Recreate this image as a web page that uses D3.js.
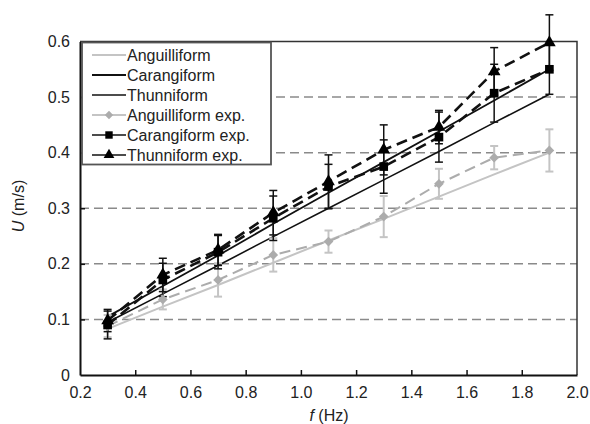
<!DOCTYPE html>
<html><head><meta charset="utf-8">
<script src="https://cdn.jsdelivr.net/npm/d3@7/dist/d3.min.js"></script>
<style>body{margin:0;background:#fff;}svg{display:block;font-family:"Liberation Sans",Arial,sans-serif;}</style>
</head><body>
<svg id="c" width="590" height="424"></svg>
<script>
const freq = [0.3,0.5,0.7,0.9,1.1,1.3,1.5,1.7,1.9];
const angTheory = [0.083,0.123,0.162,0.202,0.242,0.281,0.321,0.361,0.400];
const carTheory = [0.105,0.160,0.215,0.272,0.328,0.383,0.438,0.494,0.550];
const thuTheory = [0.095,0.146,0.197,0.249,0.300,0.351,0.402,0.454,0.505];
const angExp = [0.088,0.136,0.171,0.216,0.240,0.285,0.344,0.391,0.404];
const angErr = [0.020,0.018,0.030,0.030,0.020,0.037,0.027,0.021,0.038];
const carExp = [0.090,0.171,0.221,0.282,0.339,0.375,0.428,0.507,0.550];
const carErr = [0.025,0.030,0.030,0.040,0.040,0.048,0.045,0.052,0.045];
const thuExp = [0.098,0.180,0.225,0.292,0.348,0.405,0.446,0.546,0.598];
const thuErr = [0.020,0.030,0.028,0.040,0.048,0.045,0.030,0.043,0.050];
const xTicks = [0.2,0.4,0.6,0.8,1.0,1.2,1.4,1.6,1.8,2.0];
const yTicks = [0,0.1,0.2,0.3,0.4,0.5,0.6];
const gridVals = [0.1,0.2,0.3,0.4,0.5];
const legendLabels = ["Anguilliform","Carangiform","Thunniform","Anguilliform exp.","Carangiform exp.","Thunniform exp."];

const svg = d3.select("#c");
const x = d3.scaleLinear().domain([0.2,2.0]).range([80,577]);
const y = d3.scaleLinear().domain([0,0.6]).range([375,41.5]);
const LG = "#c4c4c4", MG = "#acacac";

// grid
svg.append("g").selectAll("line").data(gridVals).join("line")
  .attr("x1",x(0.2)).attr("x2",x(2.0)).attr("y1",d=>y(d)).attr("y2",d=>y(d))
  .attr("stroke","#8a8a8a").attr("stroke-width",1.5).attr("stroke-dasharray","9,5");

// frame top/right
svg.append("path").attr("d",`M${x(0.2)},${y(0.6)}H${x(2.0)}V${y(0)}`)
  .attr("fill","none").attr("stroke","#333").attr("stroke-width",1.5);

// axes
const xAxis = d3.axisBottom(x).tickValues(xTicks).tickFormat(d3.format(".1f")).tickSizeInner(-5).tickSizeOuter(0).tickPadding(12);
const gx = svg.append("g").attr("transform",`translate(0,${y(0)})`).call(xAxis);
const yAxis = d3.axisLeft(y).tickValues(yTicks).tickFormat(d=>d===0?"0":d3.format(".1f")(d)).tickSizeInner(-5).tickSizeOuter(0).tickPadding(10);
const gy = svg.append("g").attr("transform",`translate(${x(0.2)},0)`).call(yAxis);
[gx,gy].forEach(g=>{
  g.select(".domain").attr("stroke","#111").attr("stroke-width",2);
  g.selectAll(".tick line").attr("stroke","#111").attr("stroke-width",1.5);
  g.selectAll(".tick text").attr("fill","#222").attr("font-size",16).attr("font-family","Liberation Sans, Arial, sans-serif");
});
gx.selectAll(".tick").filter(d=>d===0.2||d===2.0).select("line").remove();
gy.selectAll(".tick").filter(d=>d===0||d===0.6).select("line").remove();

// axis labels
const xl = svg.append("text").attr("x",329).attr("y",421).attr("text-anchor","middle").attr("font-size",16).attr("fill","#222");
xl.append("tspan").attr("font-style","italic").text("f");
xl.append("tspan").text(" (Hz)");
const yl = svg.append("text").attr("transform","translate(24,206) rotate(-90)").attr("text-anchor","middle").attr("font-size",16).attr("fill","#222");
yl.append("tspan").attr("font-style","italic").text("U");
yl.append("tspan").text(" (m/s)");

const line = d3.line().x(d=>x(d[0])).y(d=>y(d[1]));
const pairs = arr => freq.map((f,i)=>[f,arr[i]]);

// theory lines
svg.append("path").attr("d",line(pairs(angTheory))).attr("fill","none").attr("stroke",LG).attr("stroke-width",2);
svg.append("path").attr("d",line(pairs(thuTheory))).attr("fill","none").attr("stroke","#111").attr("stroke-width",1.6);
svg.append("path").attr("d",line(pairs(carTheory))).attr("fill","none").attr("stroke","#111").attr("stroke-width",1.8);

// exp dashed lines
svg.append("path").attr("d",line(pairs(angExp))).attr("fill","none").attr("stroke",MG).attr("stroke-width",2).attr("stroke-dasharray","11,6");
svg.append("path").attr("d",line(pairs(carExp))).attr("fill","none").attr("stroke","#111").attr("stroke-width",2.6).attr("stroke-dasharray","11,6");
svg.append("path").attr("d",line(pairs(thuExp))).attr("fill","none").attr("stroke","#111").attr("stroke-width",2.6).attr("stroke-dasharray","11,6");

// error bars
function errBars(vals, errs, color, w){
  const g = svg.append("g").attr("stroke",color).attr("stroke-width",w).attr("fill","none");
  freq.forEach((f,i)=>{
    const cx = x(f), y1 = y(vals[i]+errs[i]), y2 = y(vals[i]-errs[i]);
    g.append("line").attr("x1",cx).attr("x2",cx).attr("y1",y1).attr("y2",y2);
    g.append("line").attr("x1",cx-4).attr("x2",cx+4).attr("y1",y1).attr("y2",y1);
    g.append("line").attr("x1",cx-4).attr("x2",cx+4).attr("y1",y2).attr("y2",y2);
  });
}
errBars(angExp, angErr, LG, 2);
errBars(carExp, carErr, "#111", 1.5);
errBars(thuExp, thuErr, "#111", 1.5);

// markers
const sym = (type,size)=>d3.symbol().type(type).size(size)();
function markers(vals, type, size, color){
  svg.append("g").selectAll("path").data(freq).join("path")
    .attr("transform",(f,i)=>`translate(${x(f)},${y(vals[i])})`)
    .attr("d",sym(type,size)).attr("fill",color);
}
markers(angExp, d3.symbolDiamond2, 60, MG);
markers(carExp, d3.symbolSquare, 75, "#000");
markers(thuExp, d3.symbolTriangle, 70, "#000");

// legend
const lg = svg.append("g");
lg.append("rect").attr("x",82).attr("y",42.5).attr("width",189).attr("height",122)
  .attr("fill","#fff").attr("stroke","#555").attr("stroke-width",1.8);
const lstyle = [
  {c:LG,w:2,m:null},{c:"#111",w:1.8,m:null},{c:"#111",w:1.6,m:null},
  {c:LG,w:2,m:d3.symbolDiamond2,mc:MG,ms:45},{c:"#111",w:1.6,m:d3.symbolSquare,mc:"#000",ms:55},{c:"#111",w:1.6,m:d3.symbolTriangle,mc:"#000",ms:50}
];
legendLabels.forEach((t,i)=>{
  const yy = 55 + i*20;
  const s = lstyle[i];
  lg.append("line").attr("x1",92).attr("x2",126).attr("y1",yy).attr("y2",yy).attr("stroke",s.c).attr("stroke-width",s.w);
  if(s.m) lg.append("path").attr("transform",`translate(109,${yy})`).attr("d",sym(s.m,s.ms)).attr("fill",s.mc);
  lg.append("text").attr("x",127).attr("y",yy+6).attr("font-size",16).attr("fill","#222").text(t);
});
</script>
</body></html>
